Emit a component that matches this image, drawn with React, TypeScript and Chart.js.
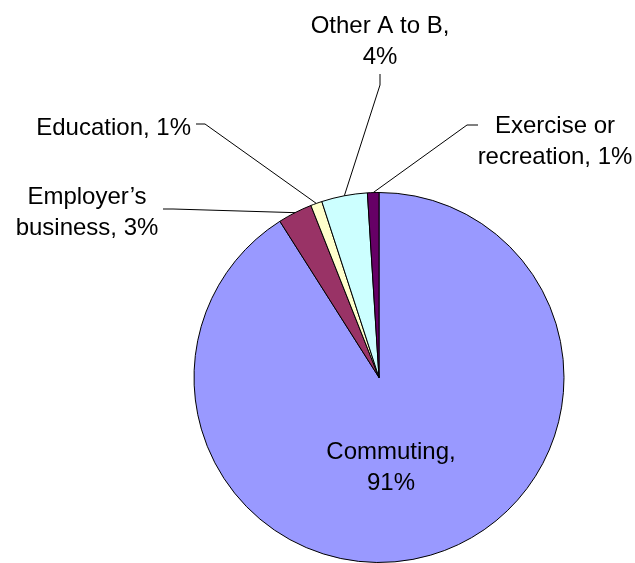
import React, { useEffect, useRef } from "react";
import { Chart, registerables } from "chart.js";

Chart.register(...registerables);

const categories = ["Commuting", "Employer\u2019s business", "Education", "Other A to B", "Exercise or recreation"];
const values = [91, 3, 1, 4, 1];
const colors = ["#9999FF", "#993366", "#FFFFCC", "#CCFFFF", "#660066"];
// how each data label is broken into lines (text before the percentage)
const labelBreaks = [["Commuting,", ""], ["Employer\u2019s", "business,"], ["Education,"], ["Other A to B,", ""], ["Exercise or", "recreation,"]];

const FONT = '24px "Liberation Sans", Arial, sans-serif';
const LINE = 31;

type Layout = { x: number; y: number; align: CanvasTextAlign; leader: number[][] | null };
const labelLayout: Layout[] = [
  { x: 391, y: 450.5, align: "center", leader: null },
  { x: 87, y: 195, align: "center", leader: [[163, 209], [173, 209]] },
  { x: 191, y: 126, align: "right", leader: [[196, 124], [205, 124]] },
  { x: 380, y: 24, align: "center", leader: [[380, 74], [380, 85]] },
  { x: 555, y: 124, align: "center", leader: [[478, 125], [467, 125]] },
];

function labelText(i: number): string[] {
  const parts = labelBreaks[i];
  const pct = values[i] + "%";
  if (parts.length === 1) return [parts[0] + " " + pct];
  if (parts[1] === "") return [parts[0], pct];
  return [parts[0], parts[1] + " " + pct];
}

const labelPlugin = {
  id: "pieLabels",
  afterDatasetsDraw(chart: any) {
    const ctx = chart.ctx as CanvasRenderingContext2D;
    const meta = chart.getDatasetMeta(0);
    ctx.save();
    meta.data.forEach((arc: any, i: number) => {
      const lay = labelLayout[i];
      const { x, y, startAngle, endAngle, outerRadius } = arc.getProps(["x", "y", "startAngle", "endAngle", "outerRadius"], true);
      if (lay.leader) {
        const mid = (startAngle + endAngle) / 2;
        const px = x + Math.cos(mid) * outerRadius;
        const py = y + Math.sin(mid) * outerRadius;
        ctx.beginPath();
        ctx.strokeStyle = "#000";
        ctx.lineWidth = 1;
        ctx.moveTo(lay.leader[0][0], lay.leader[0][1]);
        ctx.lineTo(lay.leader[1][0], lay.leader[1][1]);
        ctx.lineTo(px, py);
        ctx.stroke();
      }
      ctx.font = FONT;
      ctx.fillStyle = "#000";
      ctx.textAlign = lay.align;
      ctx.textBaseline = "alphabetic";
      labelText(i).forEach((t, k) => {
        ctx.fillText(t, lay.x, lay.y + 8.5 + k * LINE);
      });
    });
    ctx.restore();
  },
};

export default function App() {
  const ref = useRef<HTMLCanvasElement | null>(null);
  useEffect(() => {
    if (!ref.current) return;
    const chart = new Chart(ref.current, {
      type: "pie",
      data: {
        labels: categories,
        datasets: [
          {
            data: values,
            backgroundColor: colors,
            borderColor: "#000",
            borderWidth: 1,
          },
        ],
      },
      options: {
        animation: false,
        responsive: false,
        events: [],
        layout: { padding: { left: 193, right: 70, top: 192, bottom: 0 } },
        plugins: {
          legend: { display: false },
          tooltip: { enabled: false },
        },
      },
      plugins: [labelPlugin],
    });
    return () => chart.destroy();
  }, []);
  return (
    <div style={{ position: "fixed", left: 0, top: 0, width: 635, height: 563, background: "#fff" }}>
      <canvas ref={ref} width={635} height={563} style={{ display: "block" }} />
    </div>
  );
}
